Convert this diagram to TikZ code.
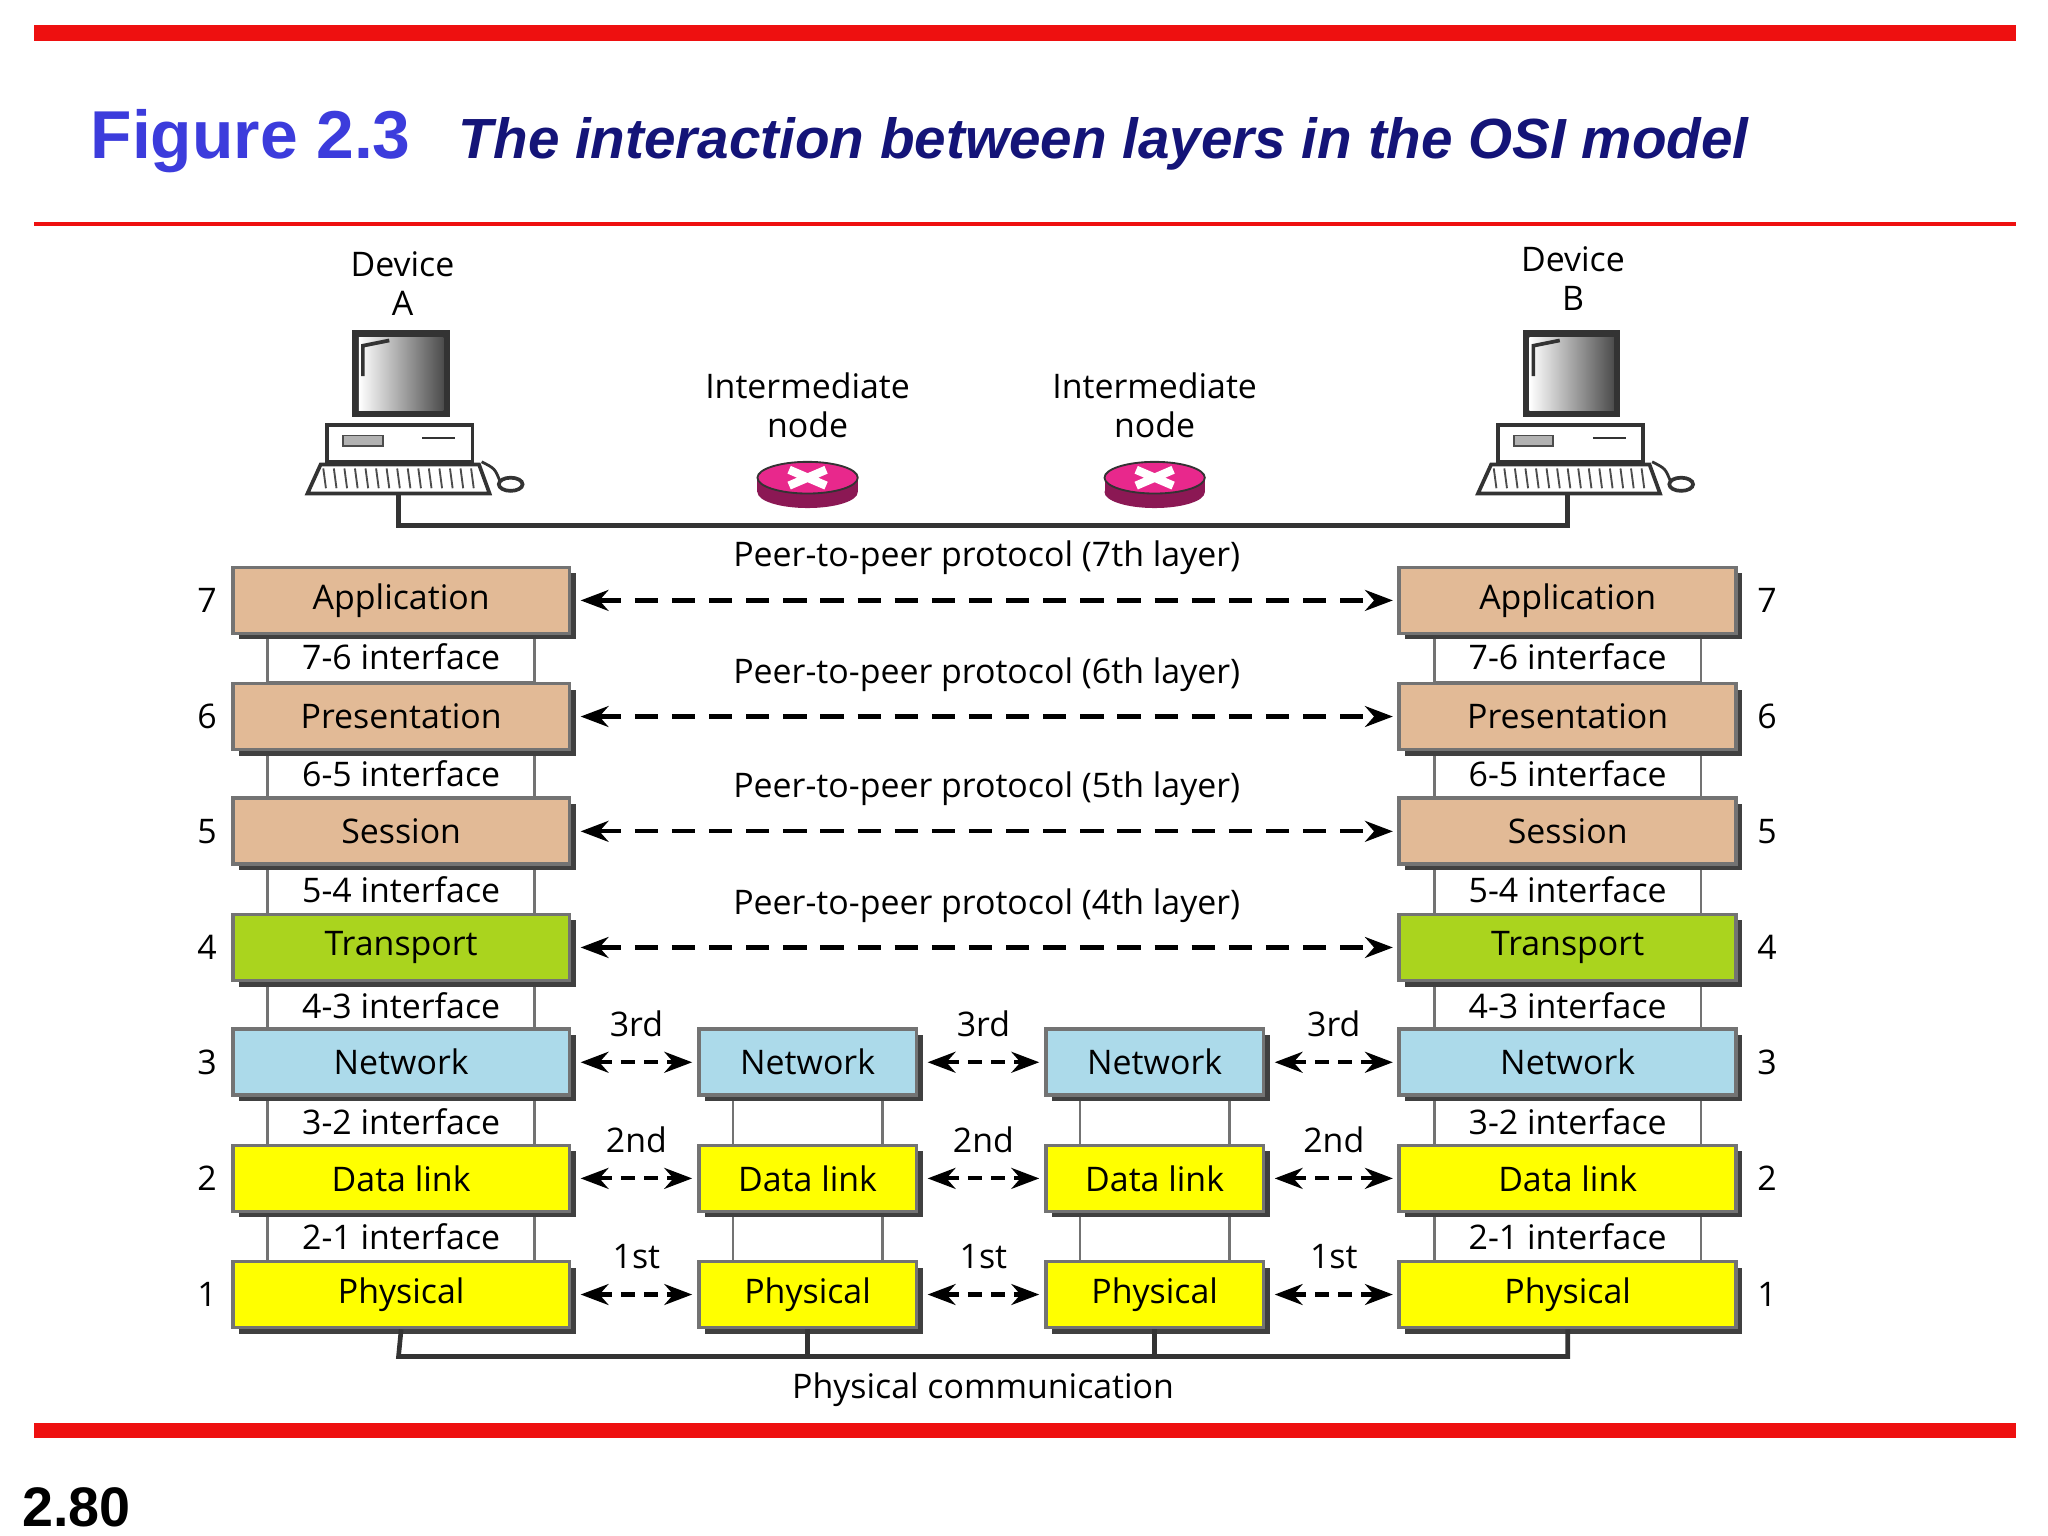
\documentclass[tikz,border=0pt]{standalone}
\usepackage{fontspec}
\setmainfont{Open Sans}
\newfontfamily\arialf{Liberation Sans}
\usetikzlibrary{shadows,arrows.meta}
\definecolor{tan}{RGB}{226,186,150}
\definecolor{grn}{RGB}{170,212,30}
\definecolor{lblue}{RGB}{172,218,234}
\definecolor{yel}{RGB}{255,255,0}
\definecolor{redbar}{RGB}{238,16,16}
\definecolor{figblue}{RGB}{60,60,220}
\definecolor{titleblue}{RGB}{20,20,120}
\definecolor{rose}{RGB}{232,40,140}
\begin{document}
\begin{tikzpicture}[x=0.01cm,y=-0.01cm,
  fs/.style={font=\fontsize{7.3}{8.5}\selectfont},
  layer/.style={fs,draw=black!55,line width=0.8pt,minimum width=2.55cm,minimum height=0.5cm,inner sep=0pt,
    drop shadow={shadow xshift=1.3pt,shadow yshift=-1.3pt,fill=black!75,opacity=1}},
  iface/.style={fs,draw=black!55,line width=0.6pt,fill=white,minimum width=2.02cm,minimum height=0.38cm,inner sep=0pt},
  midiface/.style={iface,minimum width=1.13cm},
  midlayer/.style={layer,minimum width=1.65cm},
  txt/.style={fs,inner sep=0pt},
  peer/.style={line width=0.9pt,{Stealth[length=6pt]}-{Stealth[length=6pt]},dash pattern=on 5pt off 3pt},
  speer/.style={line width=0.9pt,{Stealth[length=6pt]}-{Stealth[length=6pt]},dash pattern=on 3pt off 2pt},
  conn/.style={line width=1pt,black!80}]
\useasboundingbox (0,0) rectangle (1552,1164);
\fill[white] (0,0) rectangle (1552,1164);
% bars
\fill[redbar] (26,19) rectangle (1528,31);
\fill[redbar] (26,168) rectangle (1528,171.5);
\fill[redbar] (26,1078) rectangle (1528,1090);
\node[anchor=west,inner sep=0pt,text=figblue,font=\arialf\bfseries\fontsize{14.6}{18}\selectfont] (fig) at (68,107) {Figure 2.3};
\node[anchor=west,inner sep=0pt,text=titleblue,font=\arialf\bfseries\itshape\fontsize{12.2}{15}\selectfont] (title) at (347,109) {The interaction between layers in the OSI model};
\node[anchor=west,inner sep=0pt,font=\arialf\bfseries\fontsize{12}{14}\selectfont] (pg) at (16,1142) {2.80};
% devices
\foreach \nm/\cx/\ly/\lt in {A/305/200/A,B/1192/196/B}{
  \node[txt,align=center] (dev\nm) at (\cx,\ly+15) {Device\\\lt};
  \begin{scope}[shift={(\cx,0)}]
    \fill[black!80] (-38,250) rectangle (36,316);
    \shade[left color=white,right color=black!70] (-33,256) rectangle (31,311);
    \draw[black!80,line width=0.8pt] (-30,285) -- (-30,262) -- (-10,258);
    \draw[black!80,line width=0.8pt,fill=white] (-57,322) rectangle (53,350);
    \draw[black!70,fill=black!30] (-45,330) rectangle (-15,338);
    \draw[black!80,line width=0.6pt] (15,332) -- (40,332);
    \draw[black!80,line width=0.8pt,fill=white] (-62,352) -- (58,352) -- (66,374) -- (-72,374) -- cycle;
    \foreach \k in {-60,-52,...,56} \draw[black!70,line width=0.4pt] (\k,355) -- (\k+2,370);
    \draw[black!80,line width=0.8pt,fill=white] (82,367) ellipse (9 and 5);
    \draw[black!80,line width=0.6pt] (60,350) .. controls (70,355) .. (74,365);
  \end{scope}
}
\coordinate (devAb) at (302,375);
\coordinate (devBb) at (1188,375);
% routers
\foreach \nm/\cx in {1/612,2/875}{
  \node[txt,align=center] (inl\nm) at (\cx,307) {Intermediate\\node};
  \fill[rose!60!black] (\cx-38,363) rectangle (\cx+38,373);
  \fill[rose!60!black] (\cx,373) ellipse (38 and 12);
  \draw[black!80,fill=rose] (\cx,362) ellipse (38 and 12);
  \draw[white,line width=1.8pt] (\cx-14,356) -- (\cx+14,368) (\cx-14,368) -- (\cx+14,356);
}
\draw[conn] (devAb) -- (302,398) -- (1188,398) -- (devBb);
% interfaces
\foreach \a/\y in {7-6/498,6-5/586,5-4/674,4-3/762,3-2/850,2-1/937}{
  \node[iface] (Li\a) at (304,\y) {\a\ interface};
  \node[iface] (Ri\a) at (1188,\y) {\a\ interface};
}
\foreach \a/\y in {32/850,21/937}{
  \node[midiface] (M1i\a) at (612,\y) {};
  \node[midiface] (M2i\a) at (875,\y) {};
}
% layers
\foreach \n/\t/\c/\y in {7/Application/tan/455,6/Presentation/tan/543,5/Session/tan/630,4/Transport/grn/718,3/Network/lblue/805,2/Data link/yel/893,1/Physical/yel/981}{
  \node[layer,fill=\c] (L\n) at (304,\y) {\t};
  \node[layer,fill=\c] (R\n) at (1188,\y) {\t};
  \node[txt] (nl\n) at (157,\y) {\n};
  \node[txt] (nr\n) at (1339,\y) {\n};
}
\foreach \n/\t/\c/\y in {3/Network/lblue/805,2/Data link/yel/893,1/Physical/yel/981}{
  \node[midlayer,fill=\c] (Ma\n) at (612,\y) {\t};
  \node[midlayer,fill=\c] (Mb\n) at (875,\y) {\t};
}
% peer arrows
\foreach \n/\o in {7/7th,6/6th,5/5th,4/4th}{
  \draw[peer] ([xshift=2pt]L\n.east) -- ([xshift=-1pt]R\n.west) node[midway,above=5pt,txt] {Peer-to-peer protocol (\o\ layer)};
}
\foreach \n/\o in {3/3rd,2/2nd,1/1st}{
  \draw[speer] ([xshift=2pt]L\n.east) -- ([xshift=-1pt]Ma\n.west) node[midway,above=5pt,txt] {\o};
  \draw[speer] ([xshift=2pt]Ma\n.east) -- ([xshift=-1pt]Mb\n.west) node[midway,above=5pt,txt] {\o};
  \draw[speer] ([xshift=2pt]Mb\n.east) -- ([xshift=-1pt]R\n.west) node[midway,above=5pt,txt] {\o};
}
% physical communication
\draw[conn] (L1.south) -- (302,1028) -- (1188,1028) -- (R1.south);
\draw[conn] (Ma1.south) -- (612,1028);
\draw[conn] (Mb1.south) -- (875,1028);
\node[txt] (pc) at (745,1053) {Physical communication};
\end{tikzpicture}
\end{document}
